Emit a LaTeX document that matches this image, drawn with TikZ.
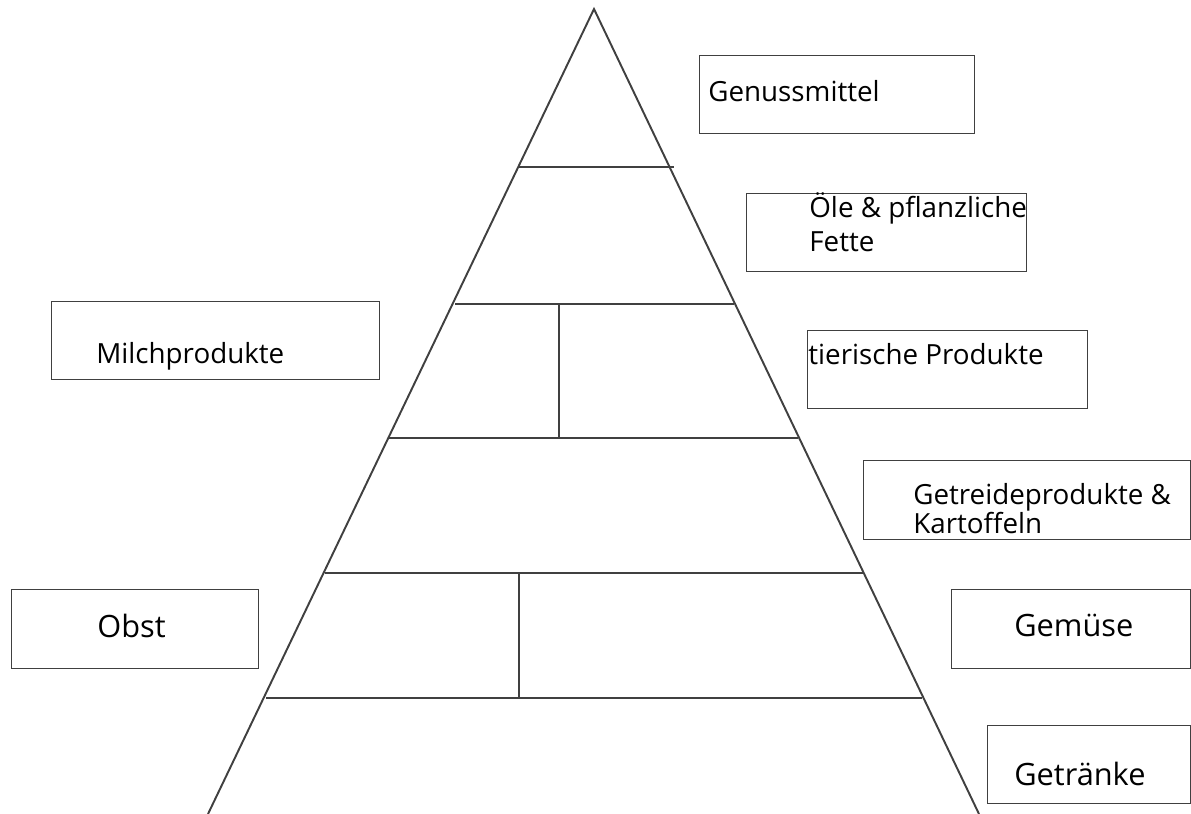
\documentclass[tikz,border=0pt]{standalone}
\usepackage{fontspec}
\setmainfont{Open Sans}
\begin{document}
\begin{tikzpicture}[x=0.02cm,y=-0.02cm,
  box/.style={draw=black!75,line width=0.8pt,anchor=north west,inner sep=0pt},
  lbl/.style={anchor=base west,inner sep=0pt,align=left,font=\fontsize{15.8}{20}\selectfont},
  big/.style={lbl,font=\fontsize{17.5}{20}\selectfont},
  layer/.style={draw=black!75,line width=1.1pt}]
  \useasboundingbox (0,0) rectangle (1191,814);

  %% pyramid
  \coordinate (top) at (594,9);
  \coordinate (bl) at (208,814);
  \coordinate (br) at (979,814);
  \draw[layer] (bl) -- (top) -- (br);

  %% layers
  \draw[layer] (518,167) -- (674,167);
  \draw[layer] (455,304) -- (734,304);
  \draw[layer] (388,438) -- (798,438);
  \draw[layer] (325,573) -- (864,573);
  \draw[layer] (266,698) -- (922,698);

  %% splits
  \draw[layer] (559,304) -- (559,438);
  \draw[layer] (519,573) -- (519,698);

  %% right boxes
  \node[box,minimum width=5.5cm,minimum height=1.56cm] (genuss) at (699,55) {};
  \node[lbl] (genusstxt) at (708,102) {Genussmittel};

  \node[box,minimum width=5.6cm,minimum height=1.56cm] (oele) at (746,193) {};
  \node[lbl,font=\fontsize{15.8}{19.9}\selectfont] (oeletxt) at (809,252) {Öle \& pflanzliche\\Fette};

  \node[box,minimum width=5.6cm,minimum height=1.56cm] (tier) at (807,330) {};
  \node[lbl] (tiertxt) at (808,365) {tierische Produkte};

  \node[box,minimum width=6.54cm,minimum height=1.58cm] (getreide) at (863,460) {};
  \node[lbl,font=\fontsize{15.8}{16}\selectfont] (getreidetxt) at (913,533) {Getreideprodukte \&\\Kartoffeln};

  \node[box,minimum width=4.78cm,minimum height=1.58cm] (gemuese) at (951,589) {};
  \node[big] (gemuesetxt) at (1014,636) {Gemüse};

  \node[box,minimum width=4.06cm,minimum height=1.56cm] (getraenke) at (987,725) {};
  \node[big] (getraenketxt) at (1014,785) {Getränke};

  %% left boxes
  \node[box,minimum width=6.56cm,minimum height=1.56cm] (milch) at (51,301) {};
  \node[lbl] (milchtxt) at (96,364) {Milchprodukte};

  \node[box,minimum width=4.94cm,minimum height=1.58cm] (obst) at (11,589) {};
  \node[big] (obsttxt) at (97,637) {Obst};
\end{tikzpicture}
\end{document}
